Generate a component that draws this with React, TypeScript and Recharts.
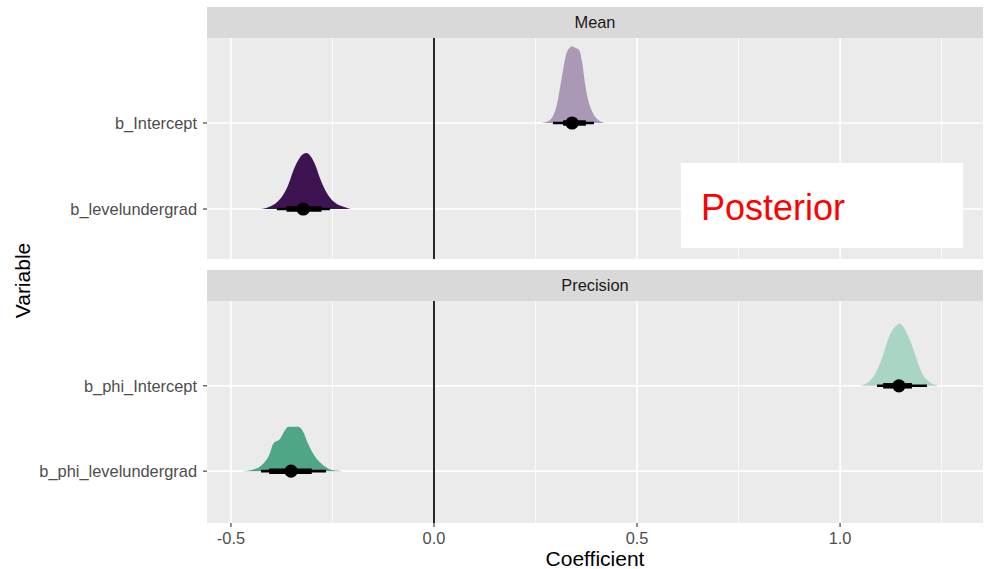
import React from "react";
import {
  ComposedChart,
  Area,
  Line,
  Scatter,
  XAxis,
  YAxis,
  CartesianGrid,
  ReferenceLine,
  ReferenceArea,
} from "recharts";

// ---- axis / category data ----
const majorBreaks = [-0.5, 0, 0.5, 1.0];
const minorBreaks = [-0.25, 0.25, 0.75, 1.25];
const xTickLabels = ["-0.5", "0.0", "0.5", "1.0"];
const xDomain = [-0.559, 1.352];

const panelTitles = ["Mean", "Precision"];
const meanVars = ["b_levelundergrad", "b_Intercept"]; // rows 1, 2
const precisionVars = ["b_phi_levelundergrad", "b_phi_Intercept"]; // rows 1, 2

// ---- posterior densities: [coefficient, scaled density height] ----
const densInterceptMean = [
  [0.264, 0], [0.281, 0.02], [0.293, 0.08], [0.303, 0.22], [0.31, 0.4], [0.318, 0.62],
  [0.325, 0.79], [0.333, 0.87], [0.34, 0.89], [0.35, 0.87], [0.357, 0.85], [0.365, 0.7],
  [0.372, 0.46], [0.379, 0.28], [0.389, 0.14], [0.401, 0.05], [0.421, 0],
];
const densLevelMean = [
  [-0.427, 0], [-0.404, 0.03], [-0.387, 0.08], [-0.371, 0.17], [-0.359, 0.28], [-0.347, 0.44],
  [-0.334, 0.57], [-0.322, 0.64], [-0.314, 0.65], [-0.305, 0.62], [-0.293, 0.52], [-0.281, 0.36],
  [-0.268, 0.22], [-0.256, 0.13], [-0.24, 0.06], [-0.219, 0.02], [-0.205, 0],
];
const densInterceptPhi = [
  [1.049, 0], [1.074, 0.06], [1.09, 0.17], [1.103, 0.32], [1.115, 0.5], [1.127, 0.64],
  [1.138, 0.7], [1.146, 0.73], [1.156, 0.69], [1.168, 0.58], [1.181, 0.42], [1.193, 0.25],
  [1.205, 0.12], [1.222, 0.04], [1.246, 0],
];
const densLevelPhi = [
  [-0.474, 0], [-0.445, 0.02], [-0.42, 0.09], [-0.404, 0.21], [-0.396, 0.32], [-0.379, 0.38],
  [-0.367, 0.48], [-0.359, 0.52], [-0.334, 0.52], [-0.322, 0.46], [-0.31, 0.32], [-0.293, 0.17],
  [-0.273, 0.07], [-0.248, 0.01], [-0.223, 0],
];

// ---- point intervals: [median, thick lo, thick hi, thin lo, thin hi] ----
const intInterceptMean = [0.34, 0.318, 0.374, 0.293, 0.394];
const intLevelMean = [-0.322, -0.363, -0.277, -0.387, -0.256];
const intInterceptPhi = [1.145, 1.106, 1.177, 1.091, 1.214];
const intLevelPhi = [-0.352, -0.406, -0.301, -0.426, -0.266];

const colors = {
  interceptMean: "#a999b6",
  levelMean: "#3d1451",
  interceptPhi: "#a9d5c5",
  levelPhi: "#4fa686",
};

const annotationText = "Posterior";
const annotationBox = { x1: 0.608, x2: 1.303, y1: 0.547, y2: 1.535 };

const FONT = "'Liberation Sans', Arial, Helvetica, sans-serif";

type Ridge = { row: number; dens: number[][]; int: number[]; color: string };

const toArea = (r: Ridge) => r.dens.map(([x, h]) => ({ x, y: r.row + h }));

function renderRidges(ridges: Ridge[], prefix: string) {
  const out: any[] = [];
  ridges.forEach((r, i) => {
    out.push(
      <Area
        key={`${prefix}-a${i}`}
        data={toArea(r)}
        dataKey="y"
        type="monotone"
        baseValue={r.row}
        stroke="none"
        fill={r.color}
        fillOpacity={1}
        isAnimationActive={false}
        dot={false}
        activeDot={false}
      />
    );
  });
  ridges.forEach((r, i) => {
    const [, tlo, thi, lo, hi] = r.int;
    out.push(
      <Line
        key={`${prefix}-thin${i}`}
        data={[{ x: lo, y: r.row }, { x: hi, y: r.row }]}
        dataKey="y"
        stroke="#000"
        strokeWidth={2.6}
        dot={false}
        activeDot={false}
        isAnimationActive={false}
      />
    );
    out.push(
      <Line
        key={`${prefix}-thick${i}`}
        data={[{ x: tlo, y: r.row }, { x: thi, y: r.row }]}
        dataKey="y"
        stroke="#000"
        strokeWidth={5.5}
        dot={false}
        activeDot={false}
        isAnimationActive={false}
      />
    );
    out.push(
      <Scatter
        key={`${prefix}-pt${i}`}
        data={[{ x: r.int[0], y: r.row }]}
        dataKey="y"
        fill="#000"
        isAnimationActive={false}
        shape={(p: any) => <circle cx={p.cx} cy={p.cy} r={6.6} fill="#000" />}
      />
    );
  });
  return out;
}

function gridLines(prefix: string) {
  return [
    ...minorBreaks.map((v) => (
      <ReferenceLine key={`${prefix}-mi${v}`} x={v} stroke="#ffffff" strokeWidth={0.8} zIndex={-60} />
    )),
    ...majorBreaks.map((v) => (
      <ReferenceLine key={`${prefix}-ma${v}`} x={v} stroke="#ffffff" strokeWidth={1.6} zIndex={-60} />
    )),
    ...[1, 2].map((v) => (
      <ReferenceLine key={`${prefix}-h${v}`} y={v} stroke="#ffffff" strokeWidth={1.6} zIndex={-60} />
    )),
    <ReferenceLine key={`${prefix}-v0`} x={0} stroke="#111" strokeWidth={1.8} zIndex={-40} />,
  ];
}

const tickStyle = { fill: "#4d4d4d", fontSize: 16.4 };

export default function App() {
  const meanRidges: Ridge[] = [
    { row: 2, dens: densInterceptMean, int: intInterceptMean, color: colors.interceptMean },
    { row: 1, dens: densLevelMean, int: intLevelMean, color: colors.levelMean },
  ];
  const phiRidges: Ridge[] = [
    { row: 2, dens: densInterceptPhi, int: intInterceptPhi, color: colors.interceptPhi },
    { row: 1, dens: densLevelPhi, int: intLevelPhi, color: colors.levelPhi },
  ];

  const stripStyle = (top: number): React.CSSProperties => ({
    position: "absolute",
    left: 207,
    top,
    width: 776,
    height: 31,
    background: "#d9d9d9",
    color: "#1a1a1a",
    fontSize: 16.4,
    lineHeight: "31px",
    textAlign: "center",
  });

  return (
    <div
      style={{
        position: "absolute",
        left: 0,
        top: 0,
        width: 986,
        height: 569,
        background: "#fff",
        fontFamily: FONT,
        overflow: "hidden",
      }}
    >
      <div style={stripStyle(7)}>{panelTitles[0]}</div>
      <div style={stripStyle(270)}>{panelTitles[1]}</div>

      <div style={{ position: "absolute", left: 0, top: 0 }}>
        <ComposedChart width={986} height={262} margin={{ top: 38, right: 3, bottom: 3, left: 0 }}>
          <CartesianGrid fill="#ebebeb" horizontal={false} vertical={false} stroke="none" />
          {gridLines("m")}
          <XAxis type="number" dataKey="x" domain={xDomain} allowDataOverflow hide />
          <YAxis
            type="number"
            dataKey="y"
            domain={[0.419, 2.988]}
            allowDataOverflow
            ticks={[1, 2]}
            tickFormatter={(v: number) => meanVars[v - 1]}
            width={207}
            axisLine={false}
            tickSize={4}
            tickMargin={6}
            tickLine={{ stroke: "#333", strokeWidth: 1.1 }}
            tick={tickStyle}
          />
          {renderRidges(meanRidges, "m")}
          <ReferenceArea
            x1={annotationBox.x1}
            x2={annotationBox.x2}
            y1={annotationBox.y1}
            y2={annotationBox.y2}
            fill="#ffffff"
            fillOpacity={1}
            stroke="none"
            zIndex={-30}
            label={{ value: annotationText, position: "insideLeft", offset: 20, fill: "#ff0000", fontSize: 36, dy: 2 }}
          />
        </ComposedChart>
      </div>

      <div style={{ position: "absolute", left: 0, top: 262 }}>
        <ComposedChart width={986} height={307} margin={{ top: 39, right: 3, bottom: 16, left: 0 }}>
          <CartesianGrid fill="#ebebeb" horizontal={false} vertical={false} stroke="none" />
          {gridLines("p")}
          <XAxis
            type="number"
            dataKey="x"
            domain={xDomain}
            allowDataOverflow
            ticks={majorBreaks}
            tickFormatter={(v: number) => xTickLabels[majorBreaks.indexOf(v)]}
            height={30}
            axisLine={false}
            tickSize={4}
            tickMargin={5}
            tickLine={{ stroke: "#333", strokeWidth: 1.1 }}
            tick={tickStyle}
          />
          <YAxis
            type="number"
            dataKey="y"
            domain={[0.392, 2.994]}
            allowDataOverflow
            ticks={[1, 2]}
            tickFormatter={(v: number) => precisionVars[v - 1]}
            width={207}
            axisLine={false}
            tickSize={4}
            tickMargin={6}
            tickLine={{ stroke: "#333", strokeWidth: 1.1 }}
            tick={tickStyle}
          />
          {renderRidges(phiRidges, "p")}
        </ComposedChart>
      </div>

      <svg
        width={986}
        height={569}
        style={{ position: "absolute", left: 0, top: 0, pointerEvents: "none" }}
      >
        <text x={595} y={566} textAnchor="middle" fontSize={21} fill="#000" fontFamily={FONT}>
          Coefficient
        </text>
        <text
          x={30}
          y={280.5}
          textAnchor="middle"
          fontSize={21}
          fill="#000"
          fontFamily={FONT}
          transform="rotate(-90 30 280.5)"
        >
          Variable
        </text>
      </svg>
    </div>
  );
}
